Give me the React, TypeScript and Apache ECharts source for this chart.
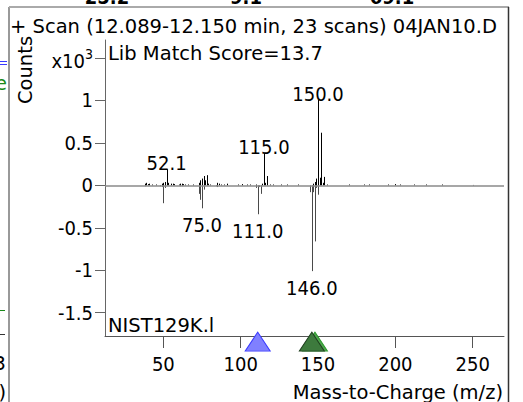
import React, { useEffect, useRef } from "react";
import * as echarts from "echarts";

const FONT = "'DejaVu Sans Condensed', 'DejaVu Sans', sans-serif";
const WORD_FONT = "'DejaVu Sans', sans-serif";

// Sample spectrum (counts x10^3), upward sticks
const sampleMz = [38, 39, 40, 41, 43, 45, 49, 50, 51, 52.1, 53, 55, 56, 57, 60, 61, 62, 63, 64, 66, 69, 73, 74, 75, 76, 77, 78, 79, 80, 85, 86, 87, 89, 91, 98, 101, 104, 106, 110, 114, 115, 116, 117, 119, 121, 126, 130, 137, 147, 148, 149, 150, 151, 152, 153, 154, 156, 170, 180, 183, 195, 200, 203, 212, 220, 230, 250];
const sampleCounts = [0.02, 0.03, 0.015, 0.02, 0.01, 0.01, 0.02, 0.03, 0.04, 0.19, 0.03, 0.02, 0.02, 0.015, 0.01, 0.02, 0.02, 0.015, 0.01, 0.01, 0.01, 0.03, 0.06, 0.08, 0.11, 0.06, 0.12, 0.02, 0.01, 0.03, 0.02, 0.01, 0.01, 0.02, 0.01, 0.015, 0.01, 0.01, 0.01, 0.02, 0.38, 0.03, 0.11, 0.01, 0.01, 0.01, 0.01, 0.01, 0.02, 0.04, 0.08, 1.01, 0.09, 0.62, 0.03, 0.1, 0.01, 0.01, 0.01, 0.01, 0.01, 0.015, 0.01, 0.01, 0.01, 0.01, 0.005];

// Library spectrum (mirrored, negative)
const libMz = [38, 48, 49, 50, 51, 61, 62, 73, 74, 75, 76, 84, 85, 110, 111, 112, 113, 145, 146, 147, 148, 149, 150];
const libCounts = [-0.01, -0.01, -0.02, -0.21, -0.03, -0.01, -0.01, -0.1, -0.17, -0.27, -0.05, -0.01, -0.02, -0.03, -0.34, -0.02, -0.1, -0.08, -1.01, -0.08, -0.66, -0.03, -0.11];

// Peak labels
const labelMz = [52.1, 115.0, 150.0, 75.0, 111.0, 146.0];
const labelCounts = [0.19, 0.38, 1.01, -0.27, -0.34, -1.01];
const labelTexts = ["52.1", "115.0", "150.0", "75.0", "111.0", "146.0"];

// Ion markers below the axis
const markerMz = [111, 148, 146];
const markerFill = ["#8080ff", "#4da64d", "#3d7a3d"];
const markerBorder = ["#3a3aff", "#2e9a2e", "#1f3f1f"];

// Axes
const xTicks = [50, 100, 150, 200, 250];
const yTicks = [-1.5, -1, -0.5, 0, 0.5, 1, 1.5];
const X_MIN = 12.3;
const X_MAX = 270.2;
const Y_MIN = -1.774;
const Y_MAX = 1.712;
const MARKER_Y = -1.84;

const titleText = "+ Scan (12.089-12.150 min, 23 scans) 04JAN10.D";
const scoreText = "Lib Match Score=13.7";
const libText = "NIST129K.l";
const yName = "Counts";
const xName = "Mass-to-Charge (m/z)";
const topFragments = ["25.2", "9.1", "69.1"];

const stick = (color: string) => (params: any, api: any) => {
  const p0 = api.coord([api.value(0), 0]);
  const p1 = api.coord([api.value(0), api.value(1)]);
  const x = Math.round(p0[0]) + 0.5;
  return {
    type: "line",
    shape: { x1: x, y1: p0[1], x2: x, y2: p1[1] },
    style: { stroke: color, lineWidth: 1 },
  };
};

export default function App() {
  const ref = useRef<HTMLDivElement>(null);
  useEffect(() => {
    const chart = echarts.init(ref.current!, null, { renderer: "svg" });
    const txt = (text: string, x: number, y: number, extra: any = {}, style: any = {}) => ({
      type: "text",
      x,
      y,
      ...extra,
      style: { text, font: `19.5px ${WORD_FONT}`, fill: "#000", align: "left", verticalAlign: "middle", ...style },
    });
    const ln = (x1: number, y1: number, x2: number, y2: number, stroke: string, lineWidth = 1) => ({
      type: "line",
      shape: { x1, y1, x2, y2 },
      style: { stroke, lineWidth },
    });
    const option: any = {
      animation: false,
      backgroundColor: "#fff",
      grid: { left: 105, right: 19, top: 40, bottom: 66, containLabel: false, outerBoundsMode: "none" },
      xAxis: {
        type: "value",
        min: X_MIN,
        max: X_MAX,
        axisLine: { show: true, onZero: false, lineStyle: { color: "#555", width: 1 } },
        axisTick: { show: true, length: 12, customValues: xTicks, lineStyle: { color: "#555" } },
        axisLabel: { customValues: xTicks, fontSize: 20, fontFamily: FONT, color: "#000", margin: 18 },
        splitLine: { show: false },
      },
      yAxis: {
        type: "value",
        min: Y_MIN,
        max: Y_MAX,
        axisLine: { show: true, onZero: false, lineStyle: { color: "#666", width: 1 } },
        axisTick: { show: true, length: 10, customValues: yTicks, lineStyle: { color: "#666" } },
        axisLabel: {
          customValues: yTicks,
          fontSize: 20,
          fontFamily: FONT,
          color: "#000",
          margin: 12,
          formatter: (v: number) => (Math.abs(v - 1.5) < 1e-9 ? "{a|x10}{b|3}" : String(v)),
          rich: {
            a: { fontSize: 20, fontFamily: FONT, color: "#000", padding: [6, 0, 0, 0] },
            b: { fontSize: 14, fontFamily: FONT, color: "#000", padding: [0, 0, 8, 0] },
          },
        },
        splitLine: { show: false },
      },
      series: [
        {
          type: "line",
          data: [],
          z: 1,
          markLine: {
            silent: true,
            symbol: "none",
            label: { show: false },
            lineStyle: { color: "#8a8a8a", width: 1.5, type: "solid" },
            data: [{ yAxis: 0 }],
          },
        },
        {
          type: "custom",
          z: 2,
          renderItem: stick("#4a4a4a"),
          data: libMz.map((m, i) => [m, libCounts[i]]),
        },
        {
          type: "custom",
          z: 3,
          renderItem: stick("#000"),
          data: sampleMz.map((m, i) => [m, sampleCounts[i]]),
        },
        {
          type: "custom",
          z: 4,
          renderItem: (params: any, api: any) => {
            const v = api.value(1);
            const p = api.coord([api.value(0), v]);
            return {
              type: "text",
              x: p[0],
              y: v >= 0 ? p[1] - 6 : p[1] + 17,
              style: {
                text: labelTexts[params.dataIndex],
                font: `20px ${FONT}`,
                fill: "#000",
                align: "center",
                verticalAlign: "middle",
              },
            };
          },
          data: labelMz.map((m, i) => [m, labelCounts[i]]),
        },
        ...markerMz.map((m, i) => ({
          type: "scatter",
          z: 5 + i,
          clip: false,
          symbol: "triangle",
          symbolSize: [25, 19],
          itemStyle: { color: markerFill[i], borderColor: markerBorder[i], borderWidth: 1, opacity: 1 },
          data: [[m, MARKER_Y]],
        })),
      ],
      graphic: [
        // fragments from neighbouring panels
        ...topFragments.map((t, i) =>
          txt(t, [107, 246, 392][i], -3, {}, { align: "center", font: `bold 20px ${FONT}` })
        ),
        ln(0, 61.5, 7, 61.5, "#3a3aff"),
        ln(0, 64.5, 7, 64.5, "#3a3aff"),
        txt("e", 7, 83, {}, { align: "right", fill: "#1a8a1a" }),
        ln(0, 310.5, 5, 310.5, "#1a8a1a"),
        ln(0, 334.5, 5, 334.5, "#333"),
        txt("3", 6, 363, {}, { align: "right" }),
        txt(")", 6, 392, {}, { align: "right" }),
        // frame
        ln(9, 7, 9, 402, "#999", 2),
        ln(9, 7, 509, 7, "#aaa", 2),
        ln(508.5, 7, 508.5, 402, "#333", 1.5),
        // texts
        txt(titleText, 10, 26),
        txt(scoreText, 108, 53),
        txt(libText, 108, 325),
        txt(yName, 25, 70, { rotation: Math.PI / 2 }, { align: "center" }),
        txt(xName, 503, 392, {}, { align: "right" }),
      ],
    };
    chart.setOption(option);
    return () => chart.dispose();
  }, []);
  return (
    <div
      ref={ref}
      style={{ position: "fixed", left: 0, top: 0, width: 523, height: 402, background: "#fff" }}
    />
  );
}
